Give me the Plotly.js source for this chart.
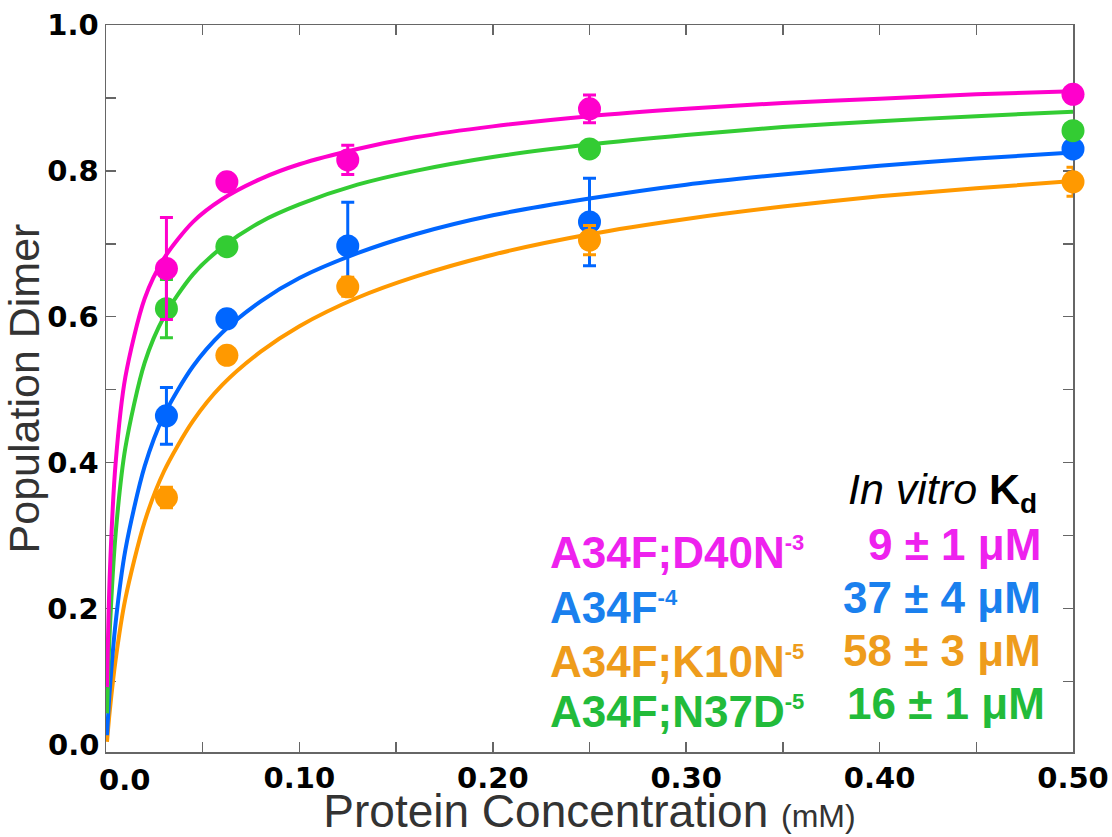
<!DOCTYPE html>
<html>
<head>
<meta charset="utf-8">
<script src="https://cdn.plot.ly/plotly-3.0.1.min.js"></script>
<style>html,body{margin:0;padding:0;background:#fff;}#chart{width:1112px;height:837px;}</style>
</head>
<body>
<div id="chart"></div>
<script>
// ---- data ----
const concX = [0.03125, 0.0625, 0.125, 0.25, 0.5];
const greenX = [0.03125, 0.0625, 0.25, 0.5];

const pinkY  = [0.666, 0.785, 0.815, 0.885, 0.905];
const pinkErr = [0.07, 0, 0.02, 0.019, 0];
const blueY  = [0.464, 0.597, 0.697, 0.730, 0.830];
const blueErr = [0.039, 0, 0.06, 0.06, 0];
const orangeY = [0.352, 0.547, 0.641, 0.705, 0.785];
const orangeErr = [0.014, 0, 0.013, 0.02, 0.02];
const greenY = [0.611, 0.696, 0.830, 0.855];
const greenErr = [0.04, 0, 0, 0];

// fitted curves
const curveX = [0.0005, 0.002, 0.005, 0.01, 0.02, 0.03, 0.045, 0.06, 0.08, 0.1, 0.13, 0.16, 0.2, 0.25, 0.3, 0.35, 0.4, 0.45, 0.5];
const pinkCurve   = [0.092, 0.25, 0.40, 0.517, 0.625, 0.680, 0.730, 0.761, 0.789, 0.809, 0.830, 0.846, 0.861, 0.875, 0.885, 0.893, 0.899, 0.905, 0.909];
const greenCurve  = [0.056, 0.172, 0.303, 0.420, 0.537, 0.600, 0.658, 0.695, 0.730, 0.754, 0.781, 0.800, 0.819, 0.836, 0.849, 0.860, 0.868, 0.875, 0.881];
const blueCurve   = [0.026, 0.090, 0.181, 0.280, 0.395, 0.465, 0.532, 0.578, 0.621, 0.653, 0.687, 0.713, 0.739, 0.762, 0.781, 0.795, 0.807, 0.817, 0.825];
const orangeCurve = [0.017, 0.061, 0.130, 0.213, 0.319, 0.388, 0.457, 0.506, 0.552, 0.587, 0.626, 0.655, 0.685, 0.713, 0.734, 0.751, 0.765, 0.776, 0.786];

const mutantNames = ['A34F;D40N', 'A34F', 'A34F;K10N', 'A34F;N37D'];
const mutantExps  = ['-3', '-4', '-5', '-5'];
const kdTexts     = ['9 ± 1 μM', '37 ± 4 μM', '58 ± 3 μM', '16 ± 1 μM'];

const xTickVals = [0, 0.1, 0.2, 0.3, 0.4, 0.5];
const xTickText = ['', '0.10', '0.20', '0.30', '0.40', '0.50'];
const yTickVals = [0, 0.2, 0.4, 0.6, 0.8, 1.0];
const yTickText = ['', '0.2', '0.4', '0.6', '0.8', '1.0'];

// ---- styling ----
const C = {pink: '#FF00CC', green: '#33CC33', blue: '#0066FF', orange: '#FF9900'};
const T = {pink: '#EE22EE', blue: '#1A80EE', orange: '#EE9C1C', green: '#22BB3A'};
const sans = 'Liberation Sans, Arial, Helvetica, sans-serif';
const tickFam = 'DejaVu Sans, sans-serif';

function curve(y, col) {
  return {x: curveX, y: y, mode: 'lines', type: 'scatter', hoverinfo: 'skip',
    line: {color: col, width: 4, shape: 'spline', smoothing: 0.8}, showlegend: false};
}
function pts(x, y, err, col) {
  return {x: x, y: y, mode: 'markers', type: 'scatter', cliponaxis: false, showlegend: false,
    marker: {color: col, size: 23, line: {width: 0}},
    error_y: {type: 'data', array: err, visible: true, color: col, thickness: 3, width: 6.5}};
}

const data = [
  curve(orangeCurve, C.orange), curve(blueCurve, C.blue), curve(greenCurve, C.green), curve(pinkCurve, C.pink),
  pts(concX, blueY, blueErr, C.blue),
  pts(concX, orangeY, orangeErr, C.orange),
  pts(greenX, greenY, greenErr, C.green),
  pts(concX, pinkY, pinkErr, C.pink)
];

const L = 106, R = 1073, TOP = 25, BOT = 752;
const px = v => (v - L) / (R - L);
const py = v => (BOT - v) / (BOT - TOP);

const annotations = [];
const leftY = [552, 607, 661, 711];
const rightY = [544, 597, 650, 703];
const rightX = [1043, 1043, 1043, 1047];
const tcols = [T.pink, T.blue, T.orange, T.green];
for (let i = 0; i < mutantNames.length; i++) {
  annotations.push({xref: 'paper', yref: 'paper', x: px(548), y: py(leftY[i]), xanchor: 'left', yanchor: 'middle',
    showarrow: false, font: {family: sans, size: 44, color: tcols[i], weight: 'bold'},
    text: mutantNames[i] + '<sup><span style="font-size:22px">' + mutantExps[i] + '</span></sup>'});
  annotations.push({xref: 'paper', yref: 'paper', x: px(rightX[i]), y: py(rightY[i]), xanchor: 'right', yanchor: 'middle',
    showarrow: false, font: {family: sans, size: 44, color: tcols[i], weight: 'bold'},
    text: kdTexts[i]});
}
annotations.push({xref: 'paper', yref: 'paper', x: px(846), y: py(492), xanchor: 'left', yanchor: 'middle',
  showarrow: false, font: {family: sans, size: 43, color: '#000'},
  text: '<i>In vitro</i> <b>K<sub><span style="font-size:28px">d</span></sub></b>'});
// shifted corner labels
annotations.push({xref: 'paper', yref: 'paper', x: px(124), y: py(780), xanchor: 'center', yanchor: 'middle',
  showarrow: false, font: {family: tickFam, size: 29, color: '#000', weight: 'bold'}, text: '0.0'});
annotations.push({xref: 'paper', yref: 'paper', x: px(101), y: py(745), xanchor: 'right', yanchor: 'middle',
  showarrow: false, font: {family: tickFam, size: 29, color: '#000', weight: 'bold'}, text: '0.0'});

const axCommon = {
  showline: true, linecolor: '#666', linewidth: 1.5, mirror: 'ticks',
  ticks: 'inside', ticklen: 10, tickwidth: 1.5, tickcolor: '#666',
  showgrid: false, zeroline: false, layer: 'below traces',
  tickfont: {family: tickFam, size: 29, color: '#000', weight: 'bold'}
};

const layout = {
  width: 1112, height: 837,
  margin: {l: L, r: 1112 - R, t: TOP, b: 837 - BOT},
  paper_bgcolor: '#fff', plot_bgcolor: '#fff',
  showlegend: false,
  xaxis: Object.assign({}, axCommon, {
    range: [0, 0.5], tickmode: 'array', tickvals: xTickVals, ticktext: xTickText,
    minor: {dtick: 0.05, tick0: 0, ticks: 'inside', ticklen: 10, tickwidth: 1.5, tickcolor: '#666', showgrid: false},
    title: {text: 'Protein Concentration <span style="font-size:32px">(mM)</span>', standoff: 7,
      font: {family: sans, size: 46, color: '#333'}}
  }),
  yaxis: Object.assign({}, axCommon, {
    range: [0.003, 1.0], tickmode: 'array', tickvals: yTickVals, ticktext: yTickText,
    minor: {dtick: 0.1, tick0: 0, ticks: 'inside', ticklen: 10, tickwidth: 1.5, tickcolor: '#666', showgrid: false},
    title: {text: 'Population Dimer', standoff: 0,
      font: {family: sans, size: 43, color: '#333'}}
  }),
  annotations: annotations
};

Plotly.newPlot('chart', data, layout, {displayModeBar: false, staticPlot: true});
</script>
</body>
</html>
